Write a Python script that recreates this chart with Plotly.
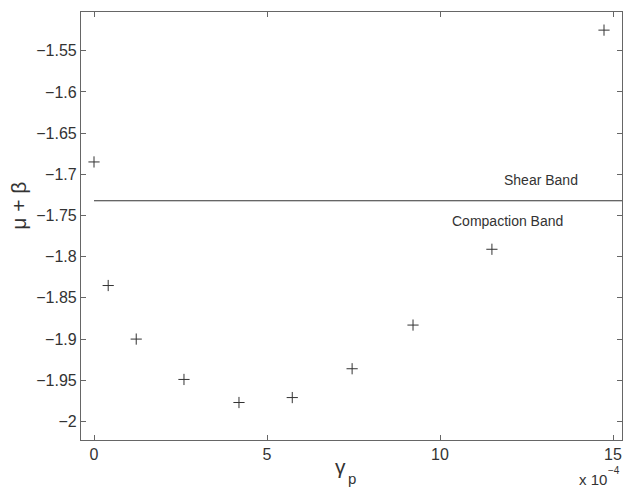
import plotly.graph_objects as go

# Data (x in units of 1e-4)
gamma_p = [0.0, 0.41, 1.22, 2.60, 4.19, 5.73, 7.46, 9.22, 11.50, 14.74]
mu_beta = [-1.685, -1.835, -1.900, -1.949, -1.977, -1.971, -1.936, -1.883, -1.791, -1.525]
band_level = -1.7321
band_x = [0.0, 15.26]
y_ticks = [-2.0, -1.95, -1.9, -1.85, -1.8, -1.75, -1.7, -1.65, -1.6, -1.55]
y_tick_labels = ["−2", "−1.95", "−1.9", "−1.85", "−1.8", "−1.75", "−1.7", "−1.65", "−1.6", "−1.55"]
x_ticks = [0, 5, 10, 15]
x_tick_labels = ["0", "5", "10", "15"]

W, H = 623, 488
L, R, T, B = 81, 1, 12, 47.5
pw, ph = W - L - R, H - T - B

def px(x):
    return (x - L) / pw

def py(y):
    return (H - B - y) / ph

txt = "#333333"
axc = "#666666"

fig = go.Figure()
fig.add_trace(go.Scatter(
    x=band_x, y=[band_level, band_level], mode="lines",
    line=dict(color="#333333", width=1.2), hoverinfo="skip", showlegend=False))
fig.add_trace(go.Scatter(
    x=gamma_p, y=mu_beta, mode="markers",
    marker=dict(symbol="cross-thin", size=8, line=dict(color="#333333", width=1)),
    showlegend=False))

fig.update_layout(
    width=W, height=H,
    margin=dict(l=L, r=R, t=T, b=B, pad=0, autoexpand=False),
    paper_bgcolor="white", plot_bgcolor="white",
    font=dict(family="Liberation Sans, Arial, sans-serif", size=15, color=txt),
    xaxis=dict(range=[-0.376, 15.26], tickvals=x_ticks, ticktext=x_tick_labels,
               ticks="inside", ticklen=5, tickcolor=axc, tickwidth=1,
               showline=True, linecolor=axc, linewidth=1.2, mirror="ticks",
               showgrid=False, zeroline=False, automargin=False,
               ticklabeloverflow="allow", tickfont=dict(size=16, color=txt)),
    yaxis=dict(range=[-2.0225, -1.503], tickvals=y_ticks, ticktext=y_tick_labels,
               ticks="inside", ticklen=5, tickcolor=axc, tickwidth=1,
               showline=True, linecolor=axc, linewidth=1.2, mirror="ticks",
               showgrid=False, zeroline=False, automargin=False,
               ticklabeloverflow="allow", tickfont=dict(size=16, color=txt)),
)

ann = [
    dict(text="Shear Band", x=12.92, y=-1.7064, xref="x", yref="y", font=dict(size=14)),
    dict(text="Compaction Band", x=11.95, y=-1.7568, xref="x", yref="y", font=dict(size=14)),
    dict(text="μ + β", x=px(19), y=py(206), xref="paper", yref="paper", textangle=-90,
         font=dict(size=21)),
    dict(text="γ", x=px(340), y=py(467), xref="paper", yref="paper", font=dict(size=21)),
    dict(text="p", x=px(352), y=py(479), xref="paper", yref="paper", font=dict(size=15)),
    dict(text="x 10", x=px(609), y=py(480), xref="paper", yref="paper",
         xanchor="right", font=dict(size=15)),
    dict(text="−4", x=px(622), y=py(471), xref="paper", yref="paper",
         xanchor="right", font=dict(size=10)),
]
for a in ann:
    a.setdefault("showarrow", False)
    a.setdefault("xanchor", "center")
    a.setdefault("yanchor", "middle")
    a["font"].setdefault("color", txt)
    fig.add_annotation(**a)

fig.write_html(
    "out.html",
    config={"displayModeBar": False},
    post_script="document.body.style.margin='0';document.body.style.overflow='hidden';",
)
